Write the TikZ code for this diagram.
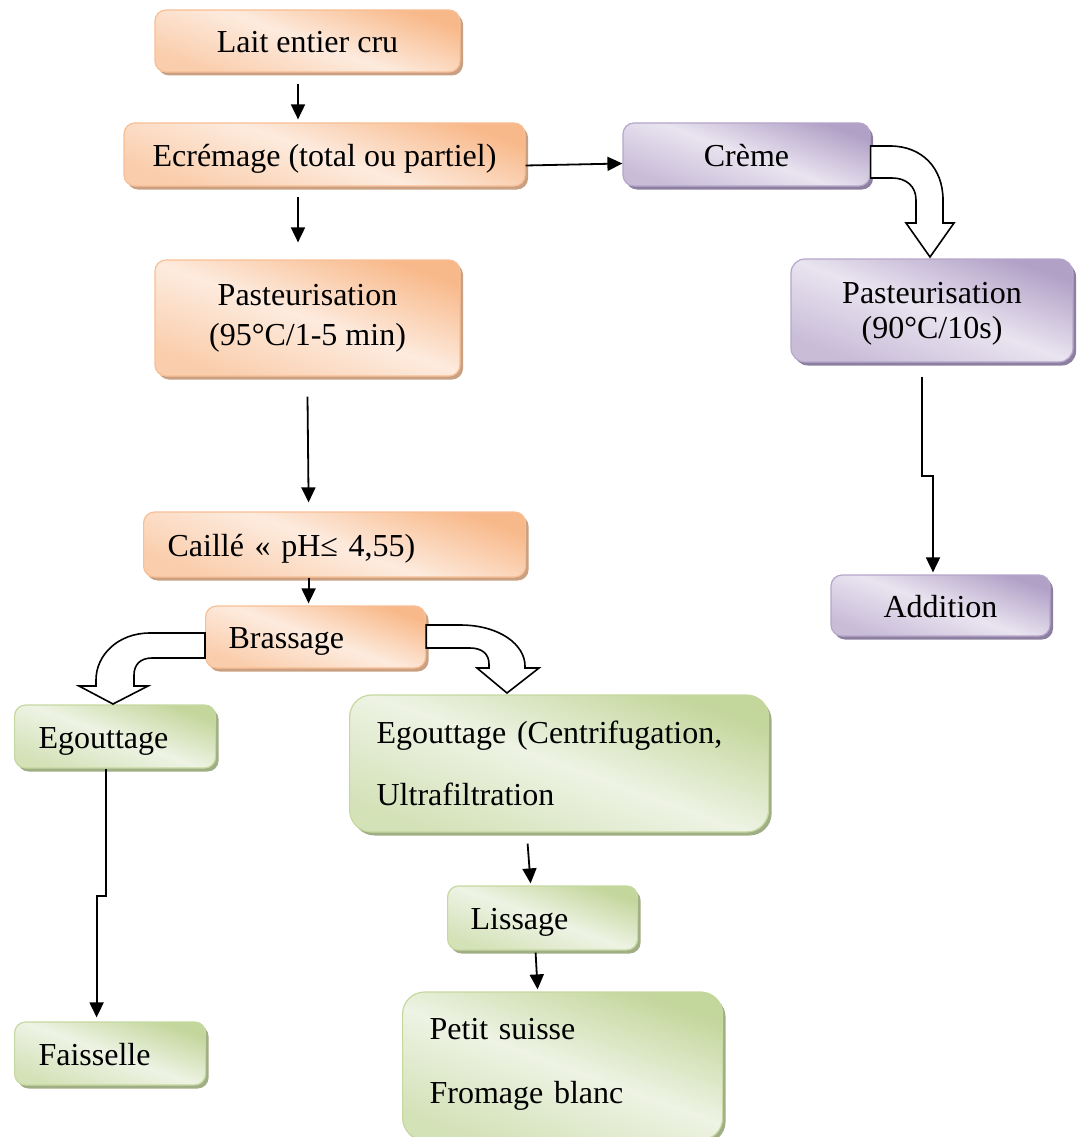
\documentclass[tikz,border=0pt]{standalone}
\usepackage{fontspec}
\setmainfont{Liberation Serif}
\usetikzlibrary{arrows.meta,shadows,calc}
\definecolor{orD}{HTML}{F8B98A}
\definecolor{orL}{HTML}{FDEBDE}
\definecolor{orB}{HTML}{F7BF95}
\definecolor{orS}{HTML}{C9A081}
\definecolor{puD}{HTML}{B2A1C7}
\definecolor{puL}{HTML}{E9E4F0}
\definecolor{puB}{HTML}{B6A6CA}
\definecolor{puS}{HTML}{8C7FA0}
\definecolor{grD}{HTML}{C3D69B}
\definecolor{grL}{HTML}{EEF3E4}
\definecolor{grB}{HTML}{C6D8A0}
\definecolor{grS}{HTML}{9FAE84}
\tikzset{
  box/.style={rounded corners=11pt, line width=1.2pt, inner ysep=0pt,
    font=\fontsize{32}{38}\selectfont},
  one/.style={text height=23pt, text depth=0pt},
  obox/.style={box, draw=orB, top color=orD, bottom color=orD!60!orL, middle color=orL,
    shading angle=-20, drop shadow={shadow xshift=3pt, shadow yshift=-3.5pt, fill=orS, opacity=1}},
  pbox/.style={box, draw=puB, top color=puD, bottom color=puD!60!puL, middle color=puL,
    shading angle=-20, drop shadow={shadow xshift=3pt, shadow yshift=-3.5pt, fill=puS, opacity=1}},
  gbox/.style={box, draw=grB, top color=grD, bottom color=grD!60!grL, middle color=grL,
    shading angle=-20, drop shadow={shadow xshift=3pt, shadow yshift=-3.5pt, fill=grS, opacity=1}},
  arr/.style={line width=1.8pt, -{Triangle[length=15pt,width=14pt]}},
  blockarr/.style={draw=black, fill=white, line width=1.6pt, line join=miter}
}
\begin{document}
\begin{tikzpicture}[x=1pt,y=-1pt]
\useasboundingbox (0,0) rectangle (1076,1137);
% orange column
\node[obox, one, minimum width=305pt, minimum height=62pt] (lait) at (307.5,41) {Lait entier cru};
\node[obox, one, minimum width=401pt, minimum height=63pt] (ecre) at (324.5,154.5) {Ecrémage (total ou partiel)};
\node[obox, minimum width=305pt, minimum height=116pt, align=center, font=\fontsize{32}{40}\selectfont] (past1) at (307.5,318) {Pasteurisation\\(95°C/1-5 min)};
\node[obox, one, anchor=west, inner xsep=24pt, text width=334pt, align=left, minimum height=65pt] (caille) at (143,544.5) {Caillé « pH≤ 4,55)};
\node[obox, one, anchor=west, inner xsep=23pt, text width=174pt, align=left, minimum height=62pt] (brass) at (205,637) {Brassage};
% purple column
\node[pbox, one, minimum width=247pt, minimum height=63pt] (creme) at (746.5,154.5) {Crème};
\node[pbox, minimum width=282pt, minimum height=103pt, align=center, font=\fontsize{32}{35}\selectfont, rounded corners=14pt] (past2) at (932,310.5) {\rule{0pt}{28pt}Pasteurisation\\(90°C/10s)};
\node[pbox, one, minimum width=219pt, minimum height=61pt] (addition) at (940.5,605.5) {Addition};
% green boxes
\node[gbox, one, anchor=west, inner xsep=24pt, text width=153pt, align=left, minimum height=63pt] (egout1) at (14,736.5) {Egouttage};
\node[gbox, anchor=west, inner xsep=27pt, text width=365pt, align=left, minimum height=137pt, rounded corners=22pt] (egout2) at (349,763.5) {Egouttage (Centrifugation,\\[24pt]Ultrafiltration};
\node[gbox, one, anchor=west, inner xsep=23pt, text width=144pt, align=left, minimum height=64pt] (lissage) at (447,918) {Lissage};
\node[gbox, one, anchor=west, inner xsep=24pt, text width=143pt, align=left, minimum height=63pt] (faiss) at (14,1053.5) {Faisselle};
\node[gbox, anchor=west, inner xsep=27pt, text width=266pt, align=left, minimum height=148pt, rounded corners=22pt] (petit) at (402,1066) {Petit suisse\\[26pt]Fromage blanc\rule[-10pt]{0pt}{10pt}};
% connectors
\draw[arr] ($(lait.south)+(-9.5,11)$) -- ($(ecre.north)+(-26.5,-3)$);
\draw[arr] ($(ecre.east)+(0,11)$) -- ($(creme.west)+(0,9)$);
\draw[arr] ($(ecre.south)+(-26.5,10)$) -- ($(past1.north)+(-9.5,-17)$);
\draw[arr] ($(past1.south)+(0,20)$) -- ($(caille.north)+(-26,-9)$);
\draw[arr] ($(caille.south)+(-26,0)$) -- ($(brass.north)+(-7,-2)$);
\draw[arr] ($(past2.south)+(-10,14)$) -- ++(0,99) -- ++(11,0) -- ($(addition.north)+(-7.5,-2)$);
\draw[arr] ($(egout1.south)+(-9.5,0)$) -- ++(0,127) -- ++(-9,0) -- ($(faiss.north)+(-13.5,-4)$);
\draw[arr] ($(egout2.south)+(-31.5,11)$) -- ($(lissage.north)+(-12,-2)$);
\draw[arr] ($(lissage.south)+(-7,2)$) -- ($(petit.north)+(-25,-2)$);
% block arrows
\draw[blockarr] (creme.east |- 0,146) -- (890,146) .. controls (922,146) and (943,168) .. (943,200)
  -- (943,223) -- (954,223) -- (930,257) -- (906,223) -- (916,223) -- (916,200)
  .. controls (916,186) and (906,178) .. (892,178) -- (creme.east |- 0,178) -- cycle;
\draw[blockarr] (brass.west |- 0,633) -- (150,633) .. controls (118,633) and (96,655) .. (96,680)
  -- (96,686) -- (79,686) -- (113,704) -- (148,686) -- (134,686) -- (134,675)
  .. controls (134,665) and (140,658) .. (152,658) -- (brass.west |- 0,658) -- cycle;
\draw[blockarr] (brass.east |- 0,625) -- (460,625) .. controls (500,625) and (525,645) .. (525,666)
  -- (525,668) -- (539,668) -- (507,693) -- (477,668) -- (489,668) -- (489,664)
  .. controls (489,654) and (482,648) .. (470,648) -- (brass.east |- 0,648) -- cycle;
\end{tikzpicture}
\end{document}
